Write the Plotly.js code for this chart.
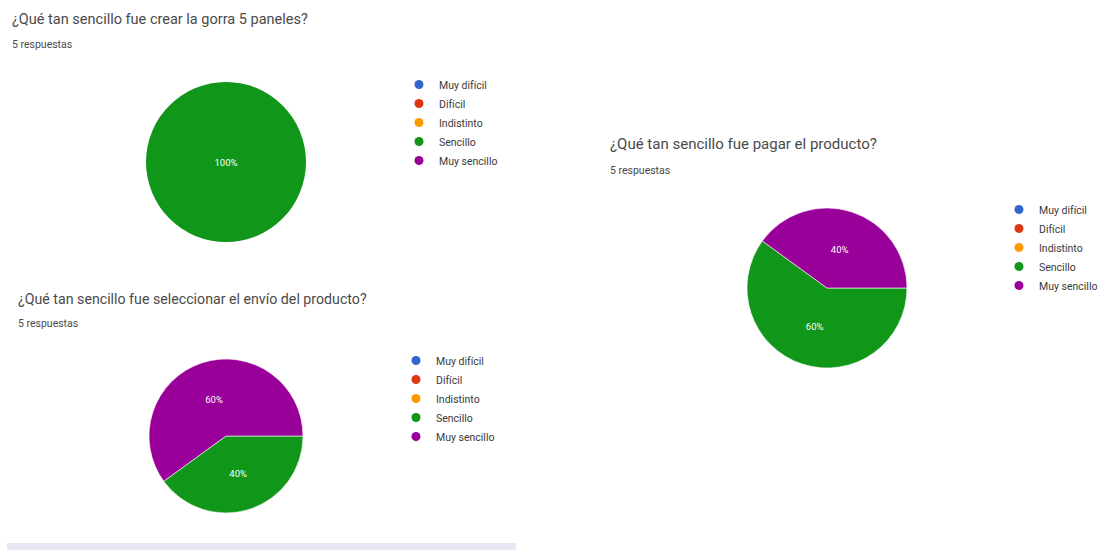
<!DOCTYPE html>
<html>
<head>
<meta charset="utf-8">
<script src="https://cdn.plot.ly/plotly-3.0.1.min.js"></script>
<style>html,body{margin:0;padding:0;background:#fff;}#chart{width:1106px;height:550px;}</style>
</head>
<body>
<div id="chart"></div>
<script>
const categories = ["Muy difícil", "Difícil", "Indistinto", "Sencillo", "Muy sencillo"];
const colors = ["#3366cc", "#dc3912", "#ff9900", "#109618", "#990099"];
const titles = [
  "¿Qué tan sencillo fue crear la gorra 5 paneles?",
  "¿Qué tan sencillo fue pagar el producto?",
  "¿Qué tan sencillo fue seleccionar el envío del producto?"
];
const subtitle = "5 respuestas";
const valuesGorra = [0, 0, 0, 5, 0];
const valuesPagar = [0, 0, 0, 3, 2];
const valuesEnvio = [0, 0, 0, 2, 3];

const W = 1106, H = 550;
const px = v => v / W;
const py = v => 1 - v / H;

function pie(values, dom, lw) {
  return {
    type: "pie", labels: categories, values: values, sort: false,
    direction: "clockwise", rotation: 90,
    marker: {colors: colors, line: {color: "#ffffff", width: lw}},
    textinfo: "percent", textposition: "inside", insidetextorientation: "horizontal",
    textfont: {color: "#ffffff", size: 9.5, family: "Roboto"},
    showlegend: false, hoverinfo: "label+percent",
    domain: dom
  };
}

const data = [
  pie(valuesGorra, {x: [px(146), px(306)], y: [py(242), py(82)]}, 0),
  pie(valuesPagar, {x: [px(747), px(907)], y: [py(368), py(208)]}, 0.6),
  pie(valuesEnvio, {x: [px(149), px(303)], y: [py(513), py(359)]}, 0.6)
];

const legendIds = ["legend", "legend2", "legend3"];
legendIds.forEach(lid => {
  categories.forEach((c, i) => {
    data.push({
      type: "scatter", mode: "markers", x: [null], y: [null], name: c,
      marker: {color: colors[i], size: 9, symbol: "circle"},
      legend: lid, showlegend: true, hoverinfo: "skip"
    });
  });
});

function legendCfg(x, y) {
  return {x: px(x), y: py(y), xanchor: "left", yanchor: "top",
    font: {family: "Roboto", size: 10.5, color: "#3a3a3a"},
    bgcolor: "rgba(0,0,0,0)", tracegroupgap: 0, itemclick: false};
}

const annotations = [];
const titlePos = [[10, 19, 45, 14.5], [608, 144, 170, 15], [16, 299, 323, 14.2]];
titlePos.forEach((p, i) => {
  annotations.push({xref: "paper", yref: "paper", x: px(p[0]), y: py(p[1]), xanchor: "left", yanchor: "middle",
    text: titles[i], showarrow: false, font: {family: "Roboto", size: p[3], color: "#4a4a4a"}});
  annotations.push({xref: "paper", yref: "paper", x: px(p[0]), y: py(p[2]), xanchor: "left", yanchor: "middle",
    text: subtitle, showarrow: false, font: {family: "Roboto", size: 10.5, color: "#4a4a4a"}});
});

const layout = {
  width: W, height: H, margin: {l: 0, r: 0, t: 0, b: 0, autoexpand: false},
  paper_bgcolor: "#ffffff", plot_bgcolor: "#ffffff",
  xaxis: {visible: false}, yaxis: {visible: false},
  legend: legendCfg(399, 70),
  legend2: legendCfg(999, 195),
  legend3: legendCfg(396, 346),
  annotations: annotations,
  shapes: [{type: "rect", xref: "paper", yref: "paper", x0: px(7), x1: px(516), y0: 0, y1: 7 / H,
    fillcolor: "#e8e7f4", line: {width: 0}}]
};

Plotly.newPlot("chart", data, layout, {displayModeBar: false, staticPlot: true});
</script>
</body>
</html>
